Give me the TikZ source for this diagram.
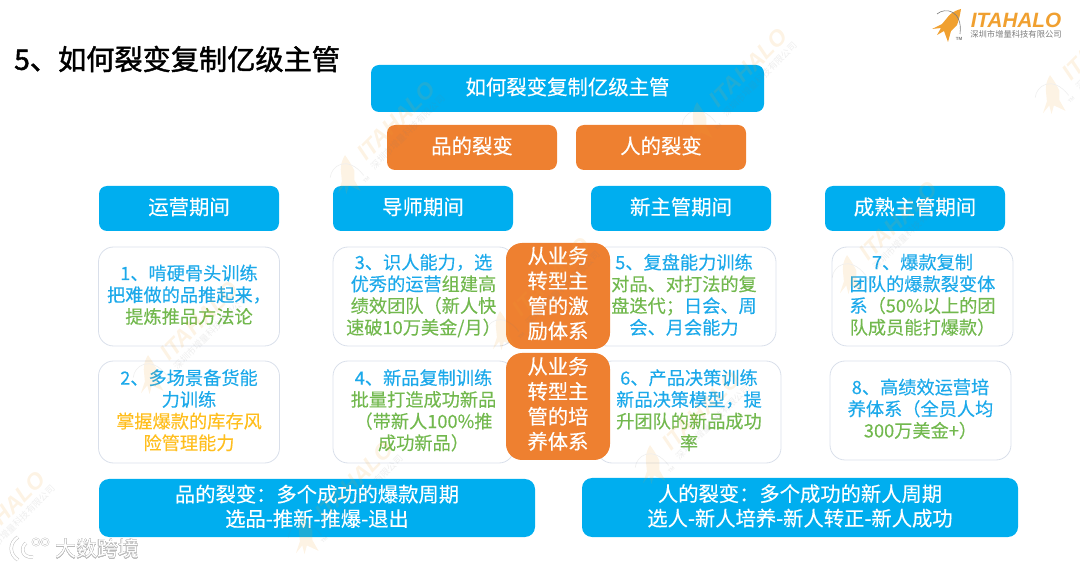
\documentclass[tikz,border=0pt]{standalone}
\usepackage{fontspec}
\usepackage{xcolor}
\usepackage{contour}
\setmainfont{Noto Sans CJK SC}[FakeBold=0.25]
\newfontfamily\titlefont{Noto Sans CJK SC}[FakeBold=1.5]
\newfontfamily\subfont{Noto Sans CJK SC}
\newfontfamily\logofont{Liberation Sans}
\contourlength{0.5pt}
\definecolor{skyblue}{HTML}{00AEEF}
\definecolor{deeporange}{HTML}{EE8030}
\definecolor{rocketorange}{HTML}{F0A030}
\definecolor{txtblue}{HTML}{1CA9EA}
\definecolor{txtgreen}{HTML}{72B84E}
\definecolor{txtamber}{HTML}{FFBE1E}
\definecolor{cardline}{HTML}{D9DFEA}
\definecolor{logogray}{HTML}{7C7C7C}
\newcommand{\cb}[1]{\textcolor{txtblue}{#1}}
\newcommand{\cg}[1]{\textcolor{txtgreen}{#1}}
\newcommand{\ca}[1]{\textcolor{txtamber}{#1}}
% rocket, name and company line; #1 name, #2 place, #3 options of the scope
\newcommand{\logomark}[3]{
  \begin{scope}[shift={#2},#3]
    \fill[rocketorange] (16,-16) .. controls (8,-14) and (4,-10) .. (2,-7) -- (-3,-1) -- (-13,4) -- (-4,3)
      -- (-8,10) -- (-1,6) -- (3,17) -- (6,6) -- (12,0) .. controls (14,-5) and (15,-10) .. (16,-16) -- cycle;
    \draw[logogray,line width=.6pt] (-8,-11) .. controls (0,-18) and (18,-15) .. (15,9);
    \node[logotitle,transform shape] (#1title) at (71,-5) {ITAHALO};
    \node[logosub,transform shape] (#1sub) at (71,9.5) {深圳市增量科技有限公司};
    \node[logotm,transform shape] (#1tm) at (14,13.5) {TM};
  \end{scope}
}
\begin{document}
\begin{tikzpicture}[
    x=1pt, y=-1pt,
    logotitle/.style={text=rocketorange, font=\logofont\bfseries\itshape\fontsize{20.7}{22}\selectfont, inner sep=0pt},
    logosub/.style={text=logogray, font=\subfont\fontsize{8.3}{9}\selectfont, inner sep=0pt},
    logotm/.style={text=logogray, font=\logofont\bfseries\fontsize{4.5}{5}\selectfont, inner sep=0pt},
    every node/.append style={align=center},
    mainbox/.style={fill=skyblue, text=white, rounded corners=8pt, minimum width=393pt, minimum height=47pt, inner sep=0pt, text depth=5pt, font=\fontsize{20.4}{24}\selectfont},
    kindbox/.style={fill=deeporange, text=white, rounded corners=8pt, minimum width=170pt, minimum height=45pt, inner sep=0pt, text depth=5pt, font=\fontsize{20.4}{24}\selectfont},
    headbox/.style={fill=skyblue, text=white, rounded corners=8pt, minimum width=180pt, minimum height=45pt, inner sep=0pt, text depth=5pt, font=\fontsize{20.4}{24}\selectfont},
    cardbox/.style={draw=cardline, line width=.8pt, rounded corners=15pt, inner sep=0pt, text depth=5pt, font=\fontsize{18.2}{21.7}\selectfont},
    midbox/.style={fill=deeporange, text=white, rounded corners=16pt, minimum width=104pt, inner sep=0pt, text depth=7pt, font=\fontsize{20.3}{25}\selectfont},
    footbox/.style={fill=skyblue, text=white, rounded corners=10pt, minimum width=436pt, minimum height=58pt, inner sep=0pt, text depth=5pt, font=\fontsize{20.3}{24.5}\selectfont}
]
\useasboundingbox (0,0) rectangle (1080,569);

% logo
\logomark{logo}{(945,25)}{}

\node[anchor=west, inner sep=0pt, font=\titlefont\fontsize{28.2}{32}\selectfont] (title) at (14,59) {5、如何裂变复制亿级主管};

\node[mainbox] (main) at (567.5,88.5) {如何裂变复制亿级主管};
\node[kindbox] (goods) at (472,147.5) {品的裂变};
\node[kindbox] (people) at (661,147.5) {人的裂变};

\node[headbox] (headyy) at (189,208.5) {运营期间};
\node[headbox] (headds) at (423,208.5) {导师期间};
\node[headbox] (headxz) at (681,208.5) {新主管期间};
\node[headbox] (headcs) at (915,208.5) {成熟主管期间};

% cards
\node[cardbox, minimum width=181pt, minimum height=99pt] (card1) at (189,296.5) {\cb{1、啃硬骨头训练}\\\cb{把难做的品推起来，}\\\cg{提炼推品方法论}};
\node[cardbox, minimum width=181pt, minimum height=102pt] (card2) at (189,412) {\cb{2、多场景备货能}\\\cb{力训练}\\\ca{掌握爆款的库存风}\\\ca{险管理能力}};
\node[cardbox, minimum width=181pt, minimum height=99pt] (card3) at (423.5,296.5) {\cb{3、识人能力，选}\\\cb{优秀的运营}\cg{组建高}\\\cg{绩效团队（新人快}\\\cg{速破10万美金/月）}};
\node[cardbox, minimum width=181pt, minimum height=102pt] (card4) at (423.5,412) {\cb{4、新品复制训练}\\\cg{批量打造成功新品}\\\cg{（带新人100\%推}\\\cg{成功新品）}};
\node[cardbox, minimum width=184pt, minimum height=99pt] (card5) at (684,296.5) {\cb{5、复盘能力训练}\\\cg{对品、对打法的复}\\\cg{盘迭代；}\cb{日会、周}\\\cb{会、月会能力}};
\node[cardbox, minimum width=184pt, minimum height=102pt] (card6) at (689,412) {\cb{6、产品决策训练}\\\cb{新品决策模型，提}\\\cg{升团队的新品成功}\\\cg{率}};
\node[cardbox, minimum width=181pt, minimum height=99pt] (card7) at (922.5,296.5) {\cb{7、爆款复制}\\\cb{团队的爆款裂变体}\\\cb{系}\cg{（50\%以上的团}\\\cg{队成员能打爆款）}};
\node[cardbox, minimum width=181pt, minimum height=99pt] (card8) at (920.5,410.5) {\cb{8、高绩效运营培}\\\cb{养体系（全员人均}\\\cg{300万美金+）}};

\node[midbox, minimum height=106pt] (midjl) at (558,296) {从业务\\转型主\\管的激\\励体系};
\node[midbox, minimum height=107pt] (midpy) at (558,406.5) {从业务\\转型主\\管的培\\养体系};

\node[footbox] (footgoods) at (317,508) {品的裂变：多个成功的爆款周期\\选品-推新-推爆-退出};
\node[footbox, minimum height=59pt] (footpeople) at (800,507.5) {人的裂变：多个成功的新人周期\\选人-新人培养-新人转正-新人成功};

% watermarks
\begin{scope}[opacity=.13, transparency group]
  \clip (0,0) rectangle (1080,569);
  \logomark{wa}{(345,180)}{rotate=45,scale=1.1}
  \logomark{wb}{(697,127)}{rotate=45,scale=1.1}
  \logomark{wc}{(1050,100)}{rotate=45,scale=1.1}
  \logomark{wd}{(148,380)}{rotate=45,scale=1.1}
  \logomark{we}{(500,336)}{rotate=45,scale=1.1}
  \logomark{wf}{(847,280)}{rotate=45,scale=1.1}
  \logomark{wg}{(-45,570)}{rotate=45,scale=1.1}
  \logomark{wh}{(303,540)}{rotate=45,scale=1.1}
  \logomark{wi}{(650,470)}{rotate=45,scale=1.1}
\end{scope}

% stamp in the corner
\draw[black!25, line width=3.4pt] (18,537) .. controls (9,543) and (9,554) .. (18,560);
\draw[white, line width=2.4pt] (18,537) .. controls (9,543) and (9,554) .. (18,560);
\draw[black!25, line width=3.4pt] (26,543) .. controls (20,548) and (22,558) .. (33,557);
\draw[white, line width=2.4pt] (26,543) .. controls (20,548) and (22,558) .. (33,557);
\draw[black!25, line width=1.8pt] (36,542) circle (3.5pt) (45,542) circle (3.5pt);
\draw[white, line width=1pt] (36,542) circle (3.5pt) (45,542) circle (3.5pt);
\node[inner sep=0pt, text=white, font=\subfont\fontsize{21}{22}\selectfont] (stamp) at (97.5,549) {\contour{black!28}{大数跨境}};
\end{tikzpicture}
\end{document}
